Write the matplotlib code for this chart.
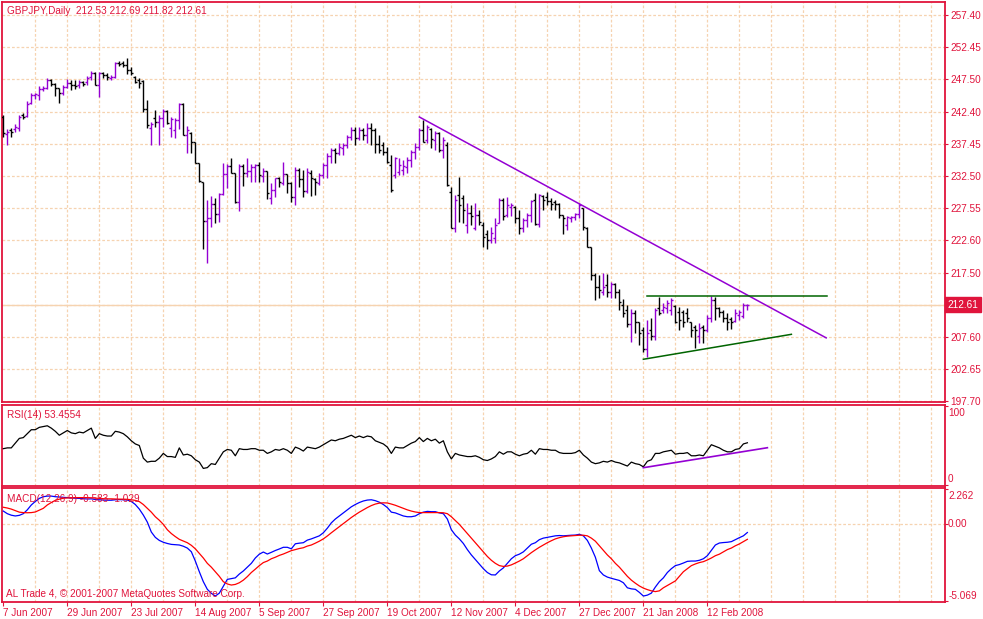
import matplotlib
matplotlib.use("Agg")
import matplotlib.pyplot as plt
from matplotlib.collections import LineCollection
import matplotlib.transforms as mtransforms

# GBPJPY daily bars, 7 Jun 2007 .. 21 Feb 2008
opens = [
    241.67, 239.04, 239.66, 239.81, 239.97, 241.98, 241.82, 243.83, 245.07, 245.07,
    246.00, 246.16, 247.39, 246.78, 246.16, 245.38, 246.31, 246.93, 246.62, 246.62,
    247.08, 247.08, 247.86, 248.48, 246.62, 248.48, 248.17, 247.70, 247.86, 250.02,
    250.02, 249.71, 248.94, 247.86, 247.39, 247.24, 242.91, 239.97, 241.50, 240.90,
    241.50, 242.60, 239.97, 239.66, 241.20, 243.68, 238.89, 239.20, 237.80, 234.55,
    231.61, 225.58, 226.05, 228.21, 226.67, 229.76, 232.85, 234.09, 233.01, 228.52,
    234.09, 233.01, 233.32, 233.94, 234.24, 232.54, 233.32, 229.14, 230.38, 232.23,
    231.46, 232.85, 231.46, 229.29, 233.47, 232.08, 230.22, 233.01, 232.08, 231.46,
    232.70, 234.24, 235.64, 236.57, 236.10, 236.87, 237.34, 238.58, 239.66, 238.42,
    239.66, 238.89, 239.97, 239.66, 237.49, 237.34, 236.26, 234.24, 232.70, 233.16,
    233.47, 233.94, 235.02, 236.26, 237.03, 239.66, 238.11, 239.81, 238.11, 239.20,
    236.57, 237.34, 230.07, 224.50, 229.60, 229.14, 224.96, 226.82, 224.50, 226.51,
    224.96, 223.57, 222.64, 222.95, 225.27, 228.83, 226.51, 227.75, 227.75, 226.05,
    224.50, 225.74, 226.51, 228.83, 225.12, 229.45, 229.29, 228.68, 228.52, 228.21,
    226.51, 224.96, 226.05, 226.20, 226.67, 227.59, 224.50, 221.56, 217.23, 215.37,
    214.60, 215.68, 214.60, 215.83, 214.60, 212.59, 211.81, 209.65, 211.35, 209.96,
    208.72, 205.78, 208.72, 207.79, 212.12, 211.81, 212.12, 211.81, 212.43, 211.50,
    211.50, 211.35, 209.96, 209.18, 207.79, 209.18, 208.72, 210.58, 213.36, 212.12,
    211.50, 210.58, 210.42, 210.11, 211.04, 210.89, 212.53,
]
highs = [
    241.98, 239.81, 239.97, 240.59, 241.98, 242.29, 244.14, 245.38, 245.38, 246.47,
    246.47, 247.70, 247.55, 246.93, 246.16, 246.62, 247.55, 247.39, 247.39, 247.39,
    247.24, 248.01, 248.79, 248.63, 248.63, 248.63, 248.48, 248.17, 250.18, 250.33,
    250.33, 250.80, 249.40, 248.01, 247.70, 247.39, 244.30, 240.90, 242.75, 241.98,
    242.91, 242.75, 241.67, 241.52, 243.83, 243.83, 240.28, 239.35, 237.80, 234.55,
    231.61, 228.83, 229.45, 229.14, 229.91, 234.55, 234.40, 235.33, 233.01, 234.40,
    234.40, 235.33, 234.40, 234.40, 234.71, 233.78, 233.32, 231.46, 232.23, 232.39,
    234.71, 232.85, 231.61, 233.94, 233.78, 233.47, 233.78, 233.47, 232.23, 233.01,
    234.55, 236.10, 236.87, 236.87, 237.65, 237.65, 238.89, 240.12, 240.12, 240.12,
    239.97, 240.74, 240.74, 239.97, 238.89, 237.80, 237.03, 235.79, 235.48, 235.33,
    235.02, 235.48, 236.57, 237.65, 239.97, 241.21, 240.43, 239.97, 239.50, 239.35,
    238.58, 237.80, 230.84, 229.60, 232.39, 229.60, 228.37, 228.06, 228.37, 227.28,
    225.43, 224.19, 224.66, 226.05, 229.14, 229.14, 229.29, 228.37, 227.90, 227.28,
    226.05, 226.82, 228.83, 229.91, 229.76, 229.60, 230.07, 229.14, 228.83, 228.37,
    226.51, 226.36, 226.36, 226.82, 228.37, 227.59, 224.66, 221.56, 217.54, 217.23,
    217.54, 217.38, 216.14, 215.99, 215.06, 213.52, 212.59, 211.97, 211.81, 209.96,
    209.18, 210.27, 210.58, 212.12, 213.82, 212.90, 213.36, 213.67, 212.59, 212.28,
    211.81, 212.12, 209.96, 209.49, 209.80, 209.49, 211.04, 213.98, 213.82, 212.28,
    211.81, 211.35, 210.73, 211.97, 211.81, 212.90, 212.69,
]
lows = [
    238.58, 237.34, 238.58, 239.35, 239.50, 241.36, 241.67, 243.68, 244.45, 244.30,
    245.69, 246.00, 246.47, 244.92, 243.83, 245.07, 246.16, 245.85, 246.00, 246.16,
    246.47, 246.62, 247.39, 246.62, 244.76, 247.70, 247.39, 247.39, 247.70, 249.56,
    249.40, 248.32, 248.17, 246.93, 246.16, 242.44, 239.97, 237.34, 240.12, 237.34,
    240.12, 240.59, 238.58, 238.42, 239.81, 238.89, 236.10, 236.10, 234.55, 231.61,
    221.25, 219.08, 224.66, 225.27, 225.43, 229.60, 230.69, 233.01, 228.37, 227.13,
    230.99, 232.39, 231.61, 231.61, 231.61, 231.61, 228.99, 228.21, 229.29, 230.84,
    231.15, 229.91, 228.52, 228.06, 230.84, 229.29, 229.91, 229.45, 229.60, 231.15,
    232.23, 232.23, 234.55, 234.55, 235.79, 235.79, 236.87, 238.11, 237.34, 238.11,
    238.11, 237.65, 237.34, 236.10, 236.10, 235.79, 234.55, 230.07, 232.23, 232.70,
    232.70, 233.01, 233.94, 235.17, 236.57, 237.80, 237.65, 236.87, 236.57, 236.26,
    235.33, 230.99, 224.50, 223.88, 225.43, 225.27, 223.73, 224.96, 224.19, 224.96,
    221.56, 221.25, 222.18, 222.18, 225.27, 225.74, 226.20, 226.36, 225.27, 223.57,
    223.88, 224.66, 225.43, 224.96, 224.66, 227.28, 228.06, 227.28, 227.28, 226.05,
    223.57, 224.19, 225.43, 225.74, 226.05, 224.19, 221.56, 216.45, 213.36, 213.67,
    214.13, 213.82, 213.67, 213.67, 211.81, 210.73, 209.18, 206.86, 208.26, 206.40,
    205.32, 204.54, 207.17, 207.17, 211.04, 211.35, 211.35, 211.04, 209.80, 208.72,
    209.18, 209.96, 207.64, 205.94, 206.71, 206.71, 208.41, 209.96, 210.27, 210.73,
    209.96, 208.72, 208.87, 209.96, 210.27, 210.58, 211.82,
]
closes = [
    239.20, 239.35, 239.35, 240.12, 241.67, 241.67, 243.68, 245.07, 245.23, 246.00,
    246.16, 247.39, 246.78, 246.16, 245.38, 246.31, 246.93, 246.62, 246.47, 247.08,
    246.78, 247.70, 248.48, 246.62, 248.48, 248.17, 247.86, 247.86, 250.02, 249.87,
    249.71, 248.94, 248.48, 247.08, 246.93, 242.91, 240.43, 240.59, 240.90, 241.50,
    242.60, 240.80, 241.40, 241.20, 243.68, 238.89, 239.66, 237.80, 234.55, 231.77,
    225.58, 226.05, 228.21, 226.67, 229.76, 232.85, 234.09, 233.01, 228.52, 234.09,
    233.01, 233.32, 233.94, 234.24, 232.70, 233.32, 229.91, 230.38, 232.23, 231.61,
    232.85, 231.46, 229.29, 233.47, 232.08, 230.22, 233.16, 232.23, 231.61, 232.70,
    234.24, 235.64, 236.57, 236.10, 237.03, 237.34, 238.58, 239.66, 238.42, 239.66,
    238.89, 239.97, 239.66, 237.49, 236.57, 236.26, 234.71, 230.38, 235.33, 234.24,
    234.09, 235.02, 236.26, 237.03, 239.66, 237.80, 240.12, 238.27, 239.20, 236.57,
    238.11, 231.15, 224.50, 228.83, 228.06, 227.28, 226.82, 226.36, 226.51, 225.43,
    223.11, 222.64, 223.73, 224.96, 228.83, 226.36, 228.06, 228.06, 226.05, 224.50,
    225.74, 226.51, 228.68, 225.12, 229.60, 228.83, 228.68, 228.21, 228.21, 226.51,
    226.05, 226.20, 226.20, 226.67, 228.06, 224.66, 221.56, 217.23, 215.37, 214.91,
    215.37, 214.60, 215.83, 214.60, 213.05, 211.35, 209.65, 211.35, 209.96, 208.26,
    205.78, 208.26, 207.79, 211.81, 211.35, 212.28, 212.90, 213.36, 209.96, 210.27,
    209.96, 210.58, 208.72, 208.72, 209.03, 208.72, 210.58, 213.36, 212.12, 211.50,
    210.58, 209.96, 209.96, 211.35, 211.50, 212.59, 212.61,
]

rsi_values = [
    46, 47, 47, 53, 59, 60, 65, 70, 70, 73, 74, 75, 72, 68, 63, 66, 69, 66, 65, 67,
    66, 69, 72, 59, 65, 63, 62, 62, 68, 67, 65, 61, 56, 52, 50, 34, 29, 30, 30, 34,
    40, 36, 36, 35, 47, 38, 39, 37, 32, 29, 21, 22, 27, 26, 34, 42, 45, 44, 37, 46,
    45, 45, 46, 46, 44, 44, 40, 42, 45, 44, 46, 44, 40, 48, 46, 43, 48, 47, 46, 48,
    51, 54, 57, 56, 58, 59, 61, 63, 60, 62, 60, 62, 61, 56, 54, 52, 48, 40, 48, 47,
    47, 50, 53, 55, 60, 55, 59, 56, 58, 53, 56, 42, 33, 40, 38, 37, 36, 36, 37, 35,
    32, 31, 33, 36, 42, 39, 42, 42, 39, 37, 39, 40, 44, 39, 46, 45, 45, 44, 44, 41,
    40, 40, 40, 41, 44, 38, 34, 29, 27, 28, 30, 29, 31, 29, 28, 26, 24, 29, 27, 26,
    23, 30, 32, 40, 40, 42, 43, 44, 39, 40, 40, 41, 37, 37, 38, 37, 44, 51, 49, 47,
    44, 42, 42, 45, 46, 52, 53.46,
]
macd_main = [
    0.82, 0.65, 0.55, 0.50, 0.54, 0.65, 0.90, 1.22, 1.45, 1.65,
    1.76, 1.80, 1.80, 1.76, 1.74, 1.72, 1.70, 1.68, 1.66, 1.65,
    1.63, 1.61, 1.62, 1.58, 1.56, 1.54, 1.53, 1.53, 1.56, 1.57,
    1.56, 1.54, 1.45, 1.25, 0.95, 0.56, 0.10, -0.55, -0.90, -1.10,
    -1.22, -1.30, -1.36, -1.38, -1.40, -1.48, -1.60, -1.84, -2.45, -3.15,
    -3.80, -4.30, -4.56, -4.74, -4.55, -4.10, -3.65, -3.60, -3.55, -3.30,
    -3.10, -2.85, -2.60, -2.25, -2.00, -1.86, -1.99, -1.88, -1.76, -1.66,
    -1.55, -1.55, -1.65, -1.32, -1.28, -1.25, -1.08, -1.00, -0.90, -0.80,
    -0.60, -0.30, 0.05, 0.30, 0.50, 0.70, 0.90, 1.10, 1.25, 1.38,
    1.48, 1.54, 1.56, 1.50, 1.40, 1.25, 1.05, 0.75, 0.70, 0.60,
    0.50, 0.45, 0.45, 0.50, 0.65, 0.75, 0.80, 0.78, 0.78, 0.70,
    0.65, 0.30, -0.40, -0.75, -1.00, -1.30, -1.70, -2.05, -2.35, -2.65,
    -2.95, -3.20, -3.35, -3.36, -3.10, -2.90, -2.60, -2.30, -2.10, -2.00,
    -1.85, -1.60, -1.35, -1.25, -1.05, -0.95, -0.90, -0.85, -0.80, -0.78,
    -0.80, -0.78, -0.76, -0.75, -0.70, -0.80, -1.10, -1.60, -2.20, -3.08,
    -3.36, -3.50, -3.58, -3.65, -3.72, -3.87, -4.20, -4.27, -4.30, -4.50,
    -4.74, -4.68, -4.55, -4.15, -3.80, -3.55, -3.20, -2.95, -2.75, -2.68,
    -2.58, -2.47, -2.45, -2.45, -2.40, -2.30, -2.10, -1.75, -1.40, -1.27,
    -1.24, -1.22, -1.18, -1.05, -0.92, -0.80, -0.583,
]
macd_signal = [
    1.07, 1.02, 0.95, 0.85, 0.75, 0.72, 0.71, 0.72, 0.76, 0.88,
    1.00, 1.22, 1.38, 1.52, 1.60, 1.66, 1.68, 1.69, 1.70, 1.70,
    1.70, 1.70, 1.69, 1.67, 1.65, 1.63, 1.62, 1.62, 1.61, 1.60,
    1.60, 1.59, 1.56, 1.52, 1.44, 1.25, 1.00, 0.75, 0.45, 0.22,
    -0.05, -0.40, -0.65, -0.85, -1.03, -1.14, -1.25, -1.42, -1.65, -1.95,
    -2.25, -2.60, -2.85, -3.15, -3.45, -3.80, -3.95, -4.02, -3.98, -3.87,
    -3.70, -3.47, -3.20, -2.98, -2.75, -2.55, -2.45, -2.30, -2.20, -2.08,
    -1.99, -1.88, -1.77, -1.70, -1.63, -1.58, -1.47, -1.40, -1.28, -1.15,
    -1.00, -0.81, -0.60, -0.40, -0.20, 0.00, 0.20, 0.40, 0.58, 0.75,
    0.90, 1.05, 1.18, 1.28, 1.34, 1.36, 1.35, 1.28, 1.20, 1.10,
    1.00, 0.90, 0.82, 0.76, 0.72, 0.72, 0.72, 0.72, 0.72, 0.72,
    0.71, 0.65, 0.45, 0.20, -0.05, -0.35, -0.65, -0.95, -1.25, -1.55,
    -1.85, -2.15, -2.40, -2.60, -2.75, -2.80, -2.78, -2.70, -2.58, -2.45,
    -2.30, -2.10, -1.90, -1.72, -1.55, -1.40, -1.25, -1.12, -1.00, -0.92,
    -0.86, -0.82, -0.80, -0.78, -0.76, -0.76, -0.80, -0.95, -1.15, -1.45,
    -1.75, -2.05, -2.30, -2.60, -2.85, -3.15, -3.45, -3.70, -3.90, -4.08,
    -4.22, -4.32, -4.40, -4.45, -4.40, -4.20, -4.05, -3.90, -3.75, -3.45,
    -3.15, -2.95, -2.75, -2.64, -2.55, -2.49, -2.38, -2.25, -2.10, -2.00,
    -1.85, -1.70, -1.60, -1.45, -1.33, -1.18, -1.029,
]

date_bars = [0, 16, 32, 48, 64, 80, 96, 112, 128, 144, 160, 176]
date_labels = ["7 Jun 2007", "29 Jun 2007", "23 Jul 2007", "14 Aug 2007",
               "5 Sep 2007", "27 Sep 2007", "19 Oct 2007", "12 Nov 2007",
               "4 Dec 2007", "27 Dec 2007", "21 Jan 2008", "12 Feb 2008"]

price_ticks = [257.40, 252.45, 247.50, 242.40, 237.45, 232.50, 227.55,
               222.60, 217.50, 207.60, 202.65, 197.70]
price_grid_hidden = 212.55
last_price = 212.61

# drawn objects: (bar, price) anchors
down_trend = [(104, 241.67), (205.7, 207.50)]
resistance = [(161, 213.98), (206, 213.98)]
support = [(160, 204.19), (197, 208.05)]
rsi_trend = [(160, 21.9), (191, 47.2)]

FG = "#E0143C"
GRID = "#F6D3B0"
UP = "#9400D3"
DOWN = "#000000"
W, H = 983, 619

plt.rcParams["font.family"] = ["Liberation Sans", "DejaVu Sans"]
plt.rcParams["font.size"] = 7.2

fig = plt.figure(figsize=(W / 100, H / 100), dpi=100)
fig.patch.set_facecolor("white")


def panel(top, bottom):
    return fig.add_axes([2 / W, 1 - bottom / H, 943 / W, (bottom - top) / H])


ax = panel(2, 402)
ax_rsi = panel(405, 486)
ax_macd = panel(488, 602)

x0, x1 = -0.325, 235.4
grid_bars = list(range(8, 236, 8))
dash = (0, (2.2, 1.6))

for a in (ax, ax_rsi, ax_macd):
    a.set_xlim(x0, x1)
    a.set_facecolor("white")
    for s in a.spines.values():
        s.set_color(FG)
        s.set_linewidth(1.3)
    for b in grid_bars:
        a.axvline(b, color=GRID, lw=0.9, ls=dash, zorder=0)
    a.tick_params(axis="x", bottom=False, labelbottom=False)
    a.yaxis.tick_right()
    a.tick_params(axis="y", colors=FG, length=2.2, width=0.8, pad=1.5, labelsize=7.2)

# ---- main price panel ----
ax.set_ylim(197.58, 259.46)
ax.set_yticks(price_ticks)
ax.set_yticklabels([f"{v:.2f}" for v in price_ticks])
for v in price_ticks + [price_grid_hidden]:
    ax.axhline(v, color=GRID, lw=0.9, ls=dash, zorder=0)
ax.axhline(last_price, color=GRID, lw=1.0, zorder=0.5)

n = len(closes)
segs, cols = [], []
for i in range(n):
    c = UP if closes[i] > opens[i] else DOWN
    segs.append([(i, lows[i]), (i, highs[i])])
    segs.append([(i - 0.5, opens[i]), (i, opens[i])])
    segs.append([(i, closes[i]), (i + 0.5, closes[i])])
    cols += [c, c, c]
ax.add_collection(LineCollection(segs, colors=cols, linewidths=1.0, zorder=3))

for line, col in ((down_trend, UP), (resistance, "#006400"), (support, "#006400")):
    ax.plot([p[0] for p in line], [p[1] for p in line], color=col, lw=1.1, zorder=4)

trans = mtransforms.blended_transform_factory(ax.transAxes, ax.transData)
ax.text(1.003, last_price, "212.61", transform=trans, color="white", va="center",
        ha="left", fontsize=7.2,
        bbox=dict(boxstyle="square,pad=0.25", fc=FG, ec=FG))

fig.text(7 / W, 1 - 11 / H, "GBPJPY,Daily  212.53 212.69 211.82 212.61",
         color=FG, va="center", ha="left")

# ---- RSI panel ----
ax_rsi.set_ylim(-1.27, 101.3)
ax_rsi.plot(range(len(rsi_values)), rsi_values, color="black", lw=0.9, zorder=3)
ax_rsi.plot([p[0] for p in rsi_trend], [p[1] for p in rsi_trend], color=UP, lw=1.2, zorder=4)
ax_rsi.set_yticks([100, 0])
ax_rsi.set_yticklabels(["", ""])
ax_rsi.annotate("100", xy=(1, 100), xycoords=("axes fraction", "data"),
                xytext=(2.2, -4.8), textcoords="offset points", color=FG, va="center")
ax_rsi.annotate("0", xy=(1, 0), xycoords=("axes fraction", "data"),
                xytext=(2.2, 4.1), textcoords="offset points", color=FG, va="center")
fig.text(7 / W, 1 - 415 / H, "RSI(14) 53.4554", color=FG, va="center", ha="left")

# ---- MACD panel ----
ax_macd.set_ylim(-5.13, 2.33)
ax_macd.axhline(0, color=GRID, lw=0.9, ls=dash, zorder=0)
ax_macd.plot(range(len(macd_main)), macd_main, color="#0000FF", lw=0.9, zorder=3)
ax_macd.plot(range(len(macd_signal)), macd_signal, color="#FF0000", lw=0.9, zorder=3)
ax_macd.set_yticks([2.262, 0.0, -5.069])
ax_macd.set_yticklabels(["", "", ""])
for val, txt, dy in ((2.262, "2.262", -5.0), (0.0, "0.00", 0.0), (-5.069, "-5.069", 3.6)):
    ax_macd.annotate(txt, xy=(1, val), xycoords=("axes fraction", "data"),
                     xytext=(2.2, dy), textcoords="offset points", color=FG, va="center")
fig.text(7 / W, 1 - 499 / H, "MACD(12,26,9) -0.583 -1.029", color=FG, va="center", ha="left")
fig.text(6 / W, 1 - 594 / H, "AL Trade 4, \u00a9 2001-2007 MetaQuotes Software Corp.",
         color=FG, va="center", ha="left")

ax_macd.tick_params(axis="x", bottom=True, labelbottom=True, direction="out",
                    length=3, width=0.8, colors=FG, pad=1, labelsize=7.2)
ax_macd.set_xticks(date_bars)
ax_macd.set_xticklabels(date_labels)
for lab in ax_macd.get_xticklabels():
    lab.set_ha("left")

fig.savefig("out.png", dpi=100)
